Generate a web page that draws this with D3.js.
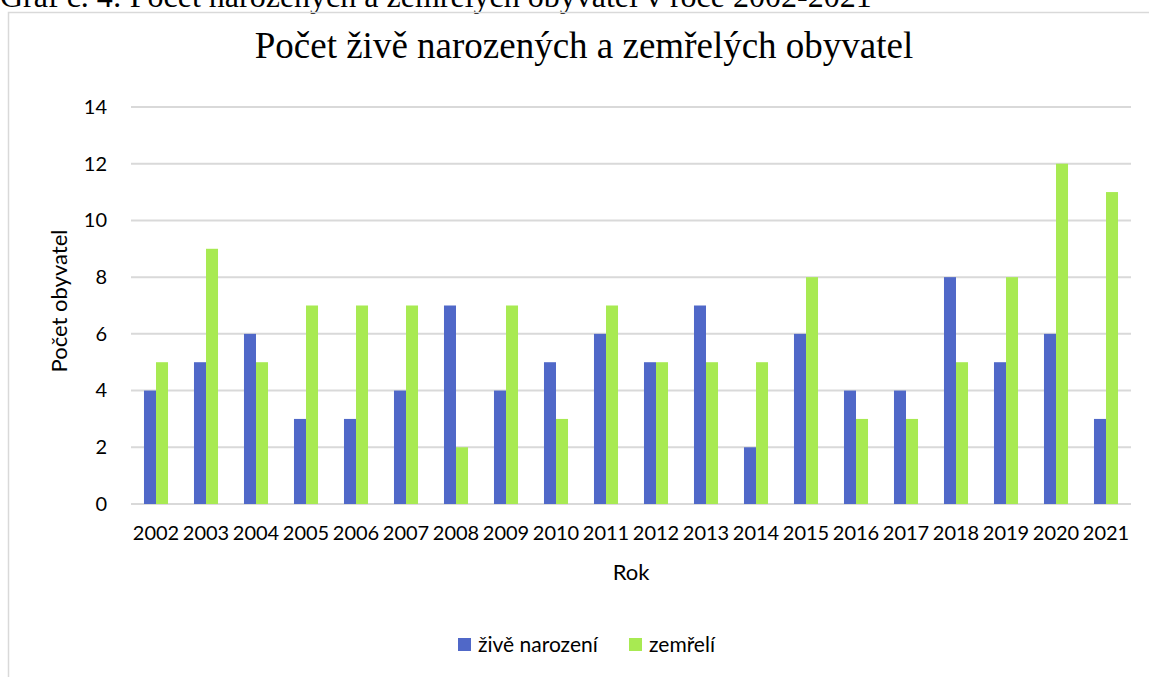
<!DOCTYPE html>
<html>
<head>
<meta charset="utf-8">
<script src="https://cdn.jsdelivr.net/npm/d3@7"></script>
<style>
  body { margin: 0; background: #fff; }
  svg { display: block; }
</style>
</head>
<body>
<div id="chart"></div>
<script>
const years = ["2002","2003","2004","2005","2006","2007","2008","2009","2010","2011",
               "2012","2013","2014","2015","2016","2017","2018","2019","2020","2021"];
const ziveNarozeni = [4, 5, 6, 3, 3, 4, 7, 4, 5, 6, 5, 7, 2, 6, 4, 4, 8, 5, 6, 3];
const zemreli      = [5, 9, 5, 7, 7, 7, 2, 7, 3, 7, 5, 5, 5, 8, 3, 3, 5, 8, 12, 11];
const yTicks = [0, 2, 4, 6, 8, 10, 12, 14];
const seriesNames = ["živě narození", "zemřelí"];
const seriesColors = ["#5068c8", "#a8ea52"];

const width = 1149, height = 677;
const margin = { top: 107, right: 18, bottom: 173, left: 131 };

const svg = d3.select("#chart").append("svg")
    .attr("width", width)
    .attr("height", height);

// caption of the document, cut off at the top
svg.append("text")
    .attr("x", 0)
    .attr("y", 7)
    .attr("font-family", "Liberation Serif")
    .attr("font-size", 32)
    .attr("fill", "#000")
    .text("Graf č. 4: Počet narozených a zemřelých obyvatel v roce 2002-2021");

// chart frame
svg.append("rect")
    .attr("x", 8.5)
    .attr("y", 12.5)
    .attr("width", width + 10)
    .attr("height", height + 10)
    .attr("fill", "none")
    .attr("stroke", "#d9d9d9")
    .attr("stroke-width", 1.5);

svg.append("text")
    .attr("x", 584)
    .attr("y", 58)
    .attr("text-anchor", "middle")
    .attr("font-family", "Liberation Serif")
    .attr("font-size", 37)
    .attr("fill", "#000")
    .text("Počet živě narozených a zemřelých obyvatel");

const innerW = width - margin.left - margin.right;
const innerH = height - margin.top - margin.bottom;

const g = svg.append("g")
    .attr("transform", `translate(${margin.left},${margin.top})`);

const x0 = d3.scaleBand()
    .domain(years)
    .range([0, innerW]);

const x1 = d3.scaleBand()
    .domain([0, 1])
    .range([0, x0.bandwidth()])
    .paddingInner(0)
    .paddingOuter(1.08);

const y = d3.scaleLinear()
    .domain([0, 14])
    .range([innerH, 0]);

// gridlines
g.append("g")
    .selectAll("line")
    .data(yTicks)
    .enter().append("line")
    .attr("x1", 0)
    .attr("x2", innerW)
    .attr("y1", d => y(d))
    .attr("y2", d => y(d))
    .attr("stroke", "#d9d9d9")
    .attr("stroke-width", 2);

// y axis labels
const yAxis = g.append("g")
    .call(d3.axisLeft(y).tickValues(yTicks).tickSize(0).tickPadding(24));
yAxis.select(".domain").remove();
yAxis.selectAll("text")
    .attr("font-family", "Lato")
    .attr("font-size", 20)
    .attr("fill", "#000");

// x axis labels
const xAxis = g.append("g")
    .attr("transform", `translate(0,${innerH})`)
    .call(d3.axisBottom(x0).tickSize(0));
xAxis.select(".domain").remove();
xAxis.selectAll("text")
    .attr("y", 36)
    .attr("dy", null)
    .attr("font-family", "Lato")
    .attr("font-size", 20)
    .attr("fill", "#000");

// bars
const rows = years.map((yr, i) => ({ year: yr, values: [ziveNarozeni[i], zemreli[i]] }));

g.append("g")
    .selectAll("g")
    .data(rows)
    .enter().append("g")
    .attr("transform", d => `translate(${x0(d.year)},0)`)
    .selectAll("rect")
    .data(d => d.values.map((v, k) => ({ k, v })))
    .enter().append("rect")
    .attr("x", d => x1(d.k))
    .attr("width", x1.bandwidth())
    .attr("y", d => y(d.v))
    .attr("height", d => innerH - y(d.v))
    .attr("fill", d => seriesColors[d.k]);

// axis titles
svg.append("text")
    .attr("transform", "translate(67,301) rotate(-90)")
    .attr("text-anchor", "middle")
    .attr("font-family", "Lato")
    .attr("font-size", 22)
    .attr("fill", "#000")
    .text("Počet obyvatel");

svg.append("text")
    .attr("x", 631)
    .attr("y", 580)
    .attr("text-anchor", "middle")
    .attr("font-family", "Lato")
    .attr("font-size", 22)
    .attr("fill", "#000")
    .text("Rok");

// legend
const legend = svg.append("g").attr("transform", "translate(458,638)");
const items = legend.selectAll("g")
    .data(seriesNames)
    .enter().append("g")
    .attr("transform", (d, i) => `translate(${i * 171},0)`);
items.append("rect")
    .attr("x", 0)
    .attr("y", 0)
    .attr("width", 13)
    .attr("height", 13)
    .attr("fill", (d, i) => seriesColors[i]);
items.append("text")
    .attr("x", 20)
    .attr("y", 14)
    .attr("font-family", "Lato")
    .attr("font-size", 21)
    .attr("fill", "#000")
    .text(d => d);
</script>
</body>
</html>
